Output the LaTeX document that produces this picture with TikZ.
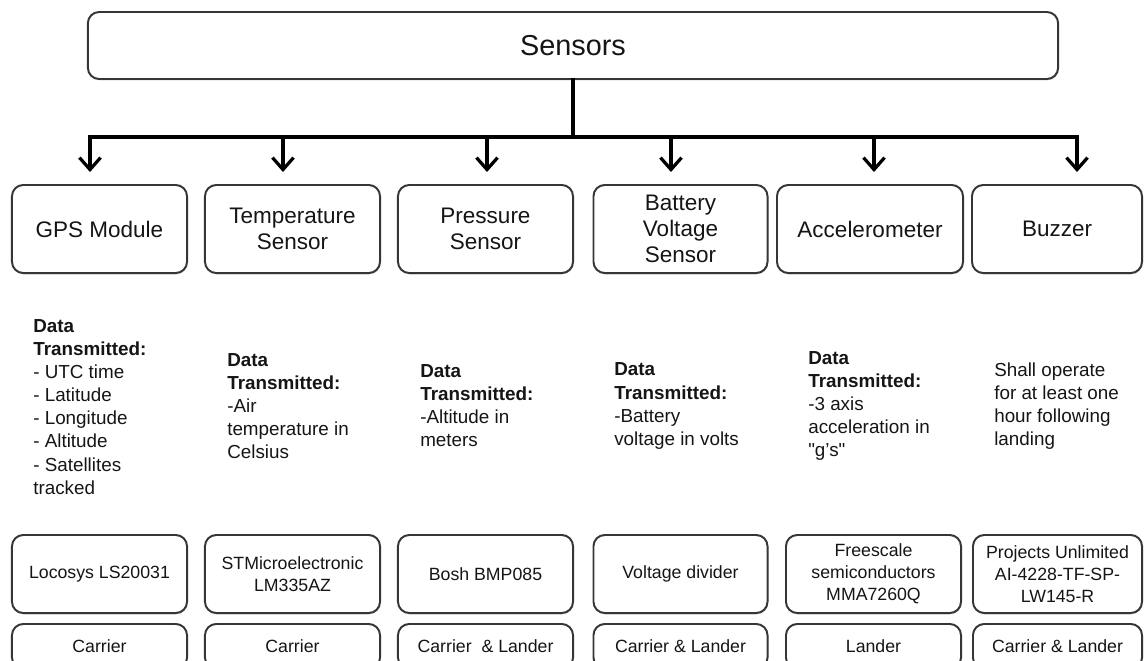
\documentclass[tikz,border=0pt]{standalone}
\usepackage{fontspec}
\setmainfont{Liberation Sans}
\usetikzlibrary{arrows.meta, positioning, calc, shadows}
\definecolor{sbedge}{HTML}{363636}
\definecolor{sbtext}{HTML}{151515}
\definecolor{sbshadow}{HTML}{9A9A9A}

\begin{document}
\begin{tikzpicture}[x=0.025cm, y=-0.025cm,
  every node/.style={text=sbtext, inner sep=0pt},
  unit/.style={rectangle, rounded corners=8pt, draw=sbedge, line width=1.4pt, fill=white, align=center,
    drop shadow={shadow xshift=0.4pt, shadow yshift=-0.9pt, fill=sbshadow, opacity=0.5}},
  sensor/.style={unit, minimum height=2.2cm, font=\fontsize{16}{18.6}\selectfont},
  part/.style={unit, minimum height=1.95cm, font=\fontsize{12.6}{15.6}\selectfont},
  usage/.style={unit, minimum height=1.12cm, font=\fontsize{12.6}{15.6}\selectfont},
  datatxt/.style={anchor=west, align=left, font=\fontsize{13.4}{16.4}\selectfont},
  bus/.style={line width=2.3pt, black, line cap=rect},
  feed/.style={line width=2.3pt, black, -{Straight Barb[length=8.5pt, width=15pt]}},
]
\useasboundingbox (0,0) rectangle (1144,660);
\clip (0,0) rectangle (1144,660);
\node[unit, minimum width=24.25cm, minimum height=1.675cm, font=\fontsize{20.5}{24}\selectfont] (sensors) at (573,45.5) {Sensors};
\node[sensor, minimum width=4.375cm] (gps) at (99.5,229) {GPS Module};
\node[sensor, minimum width=4.375cm] (temp) at (292.5,229) {Temperature\\Sensor};
\node[sensor, minimum width=4.375cm] (press) at (485.5,229) {Pressure\\Sensor};
\node[sensor, minimum width=4.35cm] (batt) at (680.5,229) {Battery\\Voltage\\Sensor};
\node[sensor, minimum width=4.65cm] (accel) at (870,229) {Accelerometer};
\node[sensor, minimum width=4.25cm] (buzz) at (1057,229) {Buzzer};
\node[datatxt] (gpsdata) at (33,407) {\textbf{Data}\\\textbf{Transmitted:}\\- UTC time\\- Latitude\\- Longitude\\- Altitude\\- Satellites\\tracked};
\node[datatxt] (tempdata) at (227,406) {\textbf{Data}\\\textbf{Transmitted:}\\-Air\\temperature in\\Celsius};
\node[datatxt] (pressdata) at (420,406) {\textbf{Data}\\\textbf{Transmitted:}\\-Altitude in\\meters};
\node[datatxt] (battdata) at (614,406) {\textbf{Data}\\\textbf{Transmitted:}\\-Battery\\voltage in volts};
\node[datatxt] (acceldata) at (808,406) {\textbf{Data}\\\textbf{Transmitted:}\\-3 axis\\acceleration in\\\textquotedbl g's\textquotedbl};
\node[datatxt] (buzzdata) at (994,406) {Shall operate\\for at least one\\hour following\\landing};
\node[part, minimum width=4.375cm] (locosys) at (99.5,574) {Locosys LS20031};
\node[part, minimum width=4.375cm] (stm) at (292.5,574) {STMicroelectronic\\LM335AZ};
\node[part, minimum width=4.375cm] (bosh) at (485.5,574) {Bosh BMP085};
\node[part, minimum width=4.35cm] (divider) at (680.5,574) {Voltage divider};
\node[part, minimum width=4.375cm] (freescale) at (873.5,574) {Freescale\\semiconductors\\MMA7260Q};
\node[part, minimum width=4.225cm] (projects) at (1057.5,574) {Projects Unlimited\\AI-4228-TF-SP-\\LW145-R};
\node[usage, minimum width=4.375cm, below=0.225cm of locosys] (locuse) {Carrier};
\node[usage, minimum width=4.375cm, below=0.225cm of stm] (stmuse) {Carrier};
\node[usage, minimum width=4.375cm, below=0.225cm of bosh] (boshuse) {Carrier\ \ \& Lander};
\node[usage, minimum width=4.35cm, below=0.225cm of divider] (divuse) {Carrier \& Lander};
\node[usage, minimum width=4.375cm, below=0.225cm of freescale] (freeuse) {Lander};
\node[usage, minimum width=4.225cm, below=0.225cm of projects] (projuse) {Carrier \& Lander};
\coordinate (bus) at (573,137);
\draw[bus] (sensors.south) -- (bus);
\draw[bus] ($(gps.north |- bus)+(-9.5,0)$) -- ($(buzz.north |- bus)+(20,0)$);
\foreach \s/\dx in {gps/-9.5, temp/-9.5, press/1.5, batt/-9.5, accel/4, buzz/20}
  \draw[feed] ($(\s.north |- bus)+(\dx,0)$) -- ($(\s.north)+(\dx,-12)$);
\end{tikzpicture}
\end{document}
